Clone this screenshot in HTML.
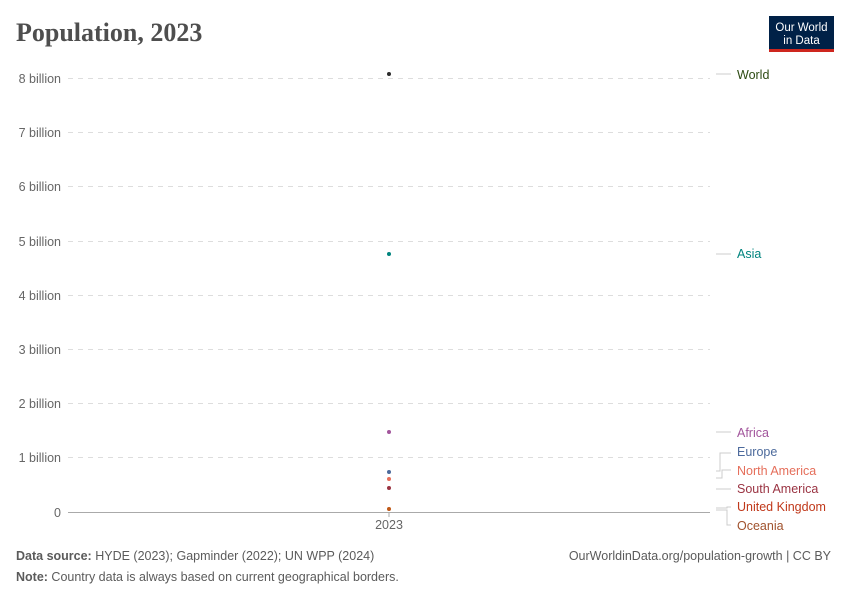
<!DOCTYPE html>
<html><head><meta charset="utf-8"><style>
body{margin:0;background:#fff;}
svg text{font-family:"Liberation Sans",sans-serif;}
</style></head><body>
<svg width="850" height="600" xmlns="http://www.w3.org/2000/svg">
<text x="16" y="41" font-size="26" font-weight="bold" fill="#4e4e4e" style="font-family:'Liberation Serif',serif">Population, 2023</text>
<rect x="769" y="16" width="65" height="35" fill="#002147"/>
<rect x="769" y="49" width="65" height="3" fill="#ce261e"/>
<text x="801.5" y="31" font-size="11.5" fill="#fff" text-anchor="middle">Our World</text>
<text x="801.5" y="44" font-size="11.5" fill="#fff" text-anchor="middle">in Data</text>
<g stroke="#ddd" stroke-dasharray="5,5" stroke-width="1">
<line x1="68" x2="710" y1="78.5" y2="78.5"/>
<line x1="68" x2="710" y1="132.5" y2="132.5"/>
<line x1="68" x2="710" y1="186.5" y2="186.5"/>
<line x1="68" x2="710" y1="241.5" y2="241.5"/>
<line x1="68" x2="710" y1="295.5" y2="295.5"/>
<line x1="68" x2="710" y1="349.5" y2="349.5"/>
<line x1="68" x2="710" y1="403.5" y2="403.5"/>
<line x1="68" x2="710" y1="457.5" y2="457.5"/>
</g>
<line x1="68" x2="710" y1="512.5" y2="512.5" stroke="#aaa"/>
<line x1="389" x2="389" y1="512" y2="517" stroke="#aaa"/>
<g font-size="12.5" fill="#666" text-anchor="end">
<text x="61" y="83">8 billion</text>
<text x="61" y="137">7 billion</text>
<text x="61" y="191">6 billion</text>
<text x="61" y="246">5 billion</text>
<text x="61" y="300">4 billion</text>
<text x="61" y="354">3 billion</text>
<text x="61" y="408">2 billion</text>
<text x="61" y="462">1 billion</text>
<text x="61" y="517">0</text>
</g>
<text x="389" y="529" font-size="12.5" fill="#666" text-anchor="middle">2023</text>
<circle cx="389" cy="74" r="2" fill="#2c2c2c"/>
<circle cx="389" cy="254" r="2" fill="#00847e"/>
<circle cx="389" cy="432" r="2" fill="#a2559c"/>
<circle cx="389" cy="472" r="2" fill="#4c6a9c"/>
<circle cx="389" cy="479" r="2" fill="#e56e5a"/>
<circle cx="389" cy="488" r="2" fill="#9a3342"/>
<circle cx="389" cy="509" r="2" fill="#c05917"/>
<g stroke="#ccc" fill="none" stroke-width="1">
<path d="M716 74 H731"/>
<path d="M716 254 H731"/>
<path d="M716 432 H731"/>
<path d="M716 471 H720 V453 H731"/>
<path d="M716 478 H722 V470 H731"/>
<path d="M716 489 H731"/>
<path d="M716 508 H727 V507 H731"/>
<path d="M716 510 H727 V525 H731"/>
</g>
<g font-size="12.5">
<text x="737" y="79" fill="#2c4a12">World</text>
<text x="737" y="258" fill="#00847e">Asia</text>
<text x="737" y="437" fill="#a2559c">Africa</text>
<text x="737" y="456" fill="#4c6a9c">Europe</text>
<text x="737" y="475" fill="#e56e5a">North America</text>
<text x="737" y="493" fill="#9a3342">South America</text>
<text x="737" y="511" fill="#c0381a">United Kingdom</text>
<text x="737" y="530" fill="#a0522d">Oceania</text>
</g>
<g font-size="12.5" fill="#5b5b5b">
<text x="16" y="560"><tspan font-weight="bold">Data source:</tspan> HYDE (2023); Gapminder (2022); UN WPP (2024)</text>
<text x="831" y="560" text-anchor="end">OurWorldinData.org/population-growth | CC BY</text>
<text x="16" y="581"><tspan font-weight="bold">Note:</tspan> Country data is always based on current geographical borders.</text>
</g>
</svg>
</body></html>
